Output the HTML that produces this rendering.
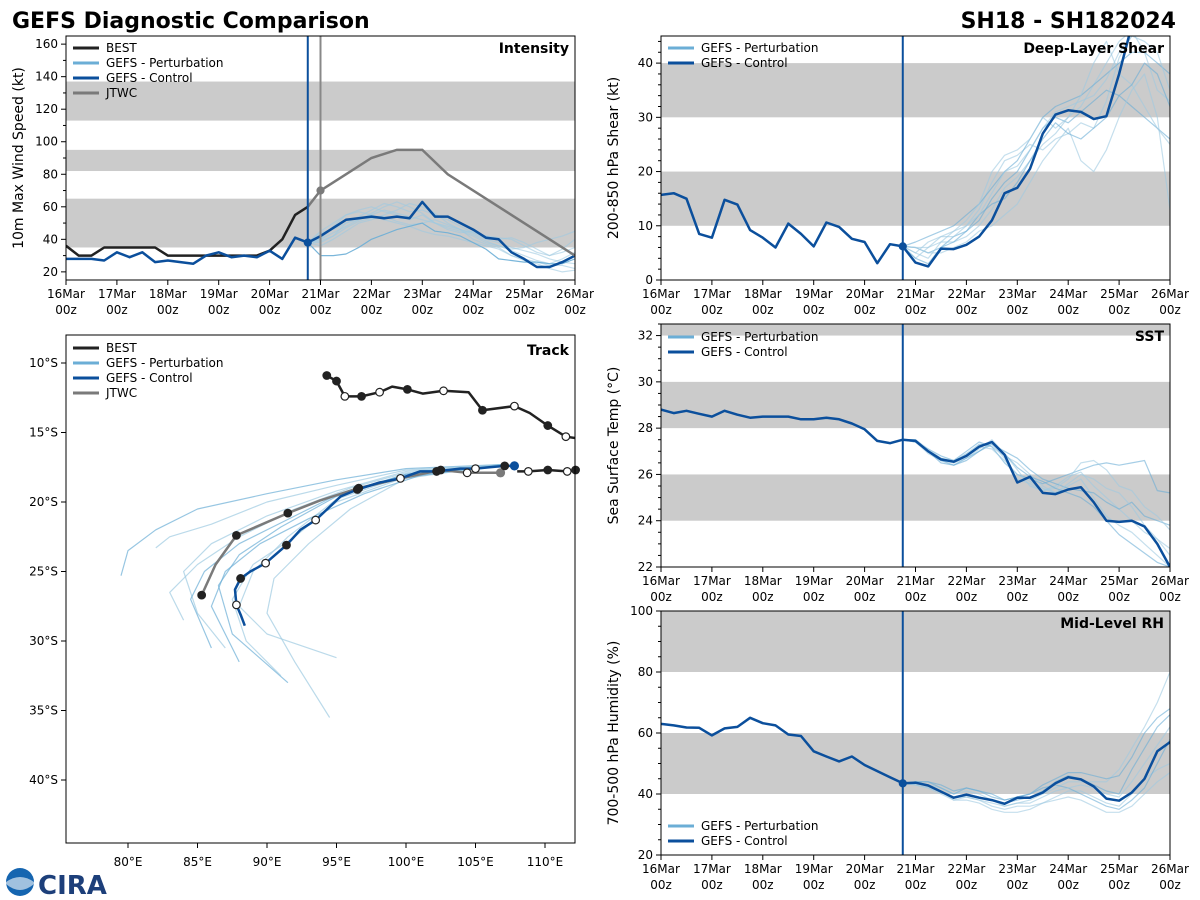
<!DOCTYPE html>
<html><head><meta charset="utf-8"><style>
html,body{margin:0;padding:0;background:#fff;}
svg{display:block;font-family:"DejaVu Sans","Liberation Sans",sans-serif;}
</style></head><body>
<svg id="c" width="1200" height="900" viewBox="0 0 1200 900">
<text x="12" y="28" font-size="22" font-weight="bold">GEFS Diagnostic Comparison</text>
<text x="1176" y="28" font-size="22" font-weight="bold" text-anchor="end">SH18 - SH182024</text>
<g>
<circle cx="20" cy="882" r="14" fill="#1565b0"/>
<path d="M6 882 Q20 872 34 882 L34 884 Q20 896 6 884Z" fill="#fff" opacity="0.6"/>
<text x="38" y="894" font-size="26" font-weight="bold" fill="#1d3f7a">CIRA</text>
</g>
</svg>
<script>
const days=['16Mar','17Mar','18Mar','19Mar','20Mar','21Mar','22Mar','23Mar','24Mar','25Mar','26Mar'];
// Intensity (kt), 6-hourly from 16Mar00z
const intBest=[36,30,30,35,35,35,35,35,30,30,30,30,30,30,30,30,33,40,55,60];
const intCtlHist=[28,28,28,27,32,29,32,26,27,26,25,30,32,29,30,29,33,28,41,38];
const intCtlFcst=[42,47,52,53,54,53,54,53,63,54,54,50,46,41,40,32,28,23,23,26,30];
const intJtwcT=[19,20,22,24,26,28,30,40];
const intJtwcV=[60,70,80,90,95,95,80,30];
const intM1=[45,50,55,58,60,57,55,52,55,50,48,46,44,40,38,35,33,31,28,26,25];
const intM2=[40,44,48,52,55,58,56,54,52,50,47,45,42,38,36,34,35,38,40,42,45];
const intM3=[38,42,50,54,58,62,60,57,58,55,52,48,44,42,41,40,36,32,30,32,35];
const intM4=[36,40,45,50,52,55,58,62,60,56,50,46,40,37,35,30,28,26,24,24,22];
const intM5=[40,48,55,57,55,52,50,48,45,43,42,40,38,36,34,30,27,25,22,20,21];
const intM6=[44,46,50,52,56,60,63,60,56,50,46,44,45,42,40,41,38,34,30,34,40];
const intM7=[39,42,47,51,53,54,51,49,50,52,49,46,43,39,36,33,30,27,25,28,32];
const intM8=[30,30,31,35,40,43,46,48,50,45,44,42,38,34,28,27,26,26,25,25,28];
// Shear (kt)
const shrCtlHist=[15.7,16,15,8.5,7.8,14.8,13.9,9.2,7.8,6,10.4,8.5,6.2,10.6,9.8,7.6,7,3.1,6.6,6.2];
const shrCtlFcst=[3.2,2.5,5.8,5.7,6.5,8,11,16,17,20.5,27,30.5,31.3,31,29.7,30.2,38,47,52,52,52];
const shrM1=[6,5,6,8,9,11,15,18,20,24,28,30,29,31,33,35,34,32,30,28,26];
const shrM2=[5,4,7,7,8,10,13,17,19,22,25,27,30,32,36,40,44,46,42,35,33];
const shrM3=[4,6,8,8,10,13,18,22,23,25,24,26,27,29,28,33,41,45,50,48,45];
const shrM4=[7,8,9,10,12,14,17,20,22,26,30,32,33,34,36,38,40,42,42,40,38];
const shrM5=[6,5,5,6,7,9,10,12,14,18,22,25,28,22,20,24,30,35,38,30,13];
const shrM6=[5,7,8,9,11,14,20,23,24,26,30,28,30,34,40,44,38,36,32,28,25];
const shrM7=[4,3,6,7,9,12,14,15,18,22,26,29,27,26,28,30,34,36,40,38,32];
const shrM8=[6,6,7,9,10,12,16,20,21,24,28,31,32,33,34,37,42,45,44,42,35];
// SST (C)
const sstCtlHist=[28.8,28.65,28.75,28.62,28.5,28.75,28.58,28.45,28.5,28.5,28.5,28.38,28.38,28.45,28.38,28.2,27.95,27.45,27.35,27.5];
const sstCtlFcst=[27.45,27.0,26.65,26.55,26.8,27.2,27.4,26.85,25.65,25.9,25.2,25.15,25.35,25.45,24.8,24.0,23.95,24.0,23.75,23.0,22.0];
const sstM1=[27.4,27.1,26.8,26.6,27.0,27.4,27.2,26.5,26.0,25.8,25.6,25.8,26.0,26.2,26.4,26.5,26.4,26.5,26.6,25.3,25.2];
const sstM2=[27.5,27.0,26.7,26.5,26.7,27.1,27.5,26.9,26.2,25.5,25.3,25.5,25.9,26.1,25.5,25.0,24.5,24.0,23.5,23.2,22.8];
const sstM3=[27.4,26.9,26.6,26.6,26.9,27.3,27.2,26.8,26.5,26.0,25.5,25.2,25.5,25.8,25.0,24.2,23.8,23.5,23.0,22.5,22.0];
const sstM4=[27.5,27.0,26.5,26.4,26.6,27.0,27.3,27.0,26.7,26.2,25.8,25.6,25.4,25.3,25.2,24.8,24.5,24.8,24.2,24.0,23.8];
const sstM5=[27.4,27.0,26.6,26.5,26.9,27.2,27.1,26.6,26.0,25.7,25.4,25.2,25.6,26.0,25.8,25.4,25.2,24.6,23.8,23.2,22.5];
const sstM6=[27.5,27.1,26.7,26.6,26.8,27.3,27.3,26.7,25.8,25.6,25.3,25.4,25.8,26.5,26.6,26.2,25.5,25.3,24.6,24.2,23.6];
const sstM7=[27.4,27.0,26.6,26.4,26.7,27.0,27.4,26.9,26.3,25.9,25.7,25.4,25.2,25.0,24.6,24.0,23.4,23.0,22.6,22.2,22.0];
// RH (%)
const rhCtlHist=[63,62.5,61.8,61.7,59.2,61.5,62,65,63.2,62.5,59.5,59,54,52.3,50.7,52.3,49.5,47.5,45.5,43.5];
const rhCtlFcst=[43.7,42.8,40.8,38.8,39.8,38.8,38,36.8,38.8,38.8,40.5,43.5,45.5,44.8,42.5,38.5,37.8,40.5,45,54,57];
const rhM1=[44,43,41,39,40,39,38,37,38,39,41,44,46,45,43,41,40,48,55,62,66];
const rhM2=[44,43,42,40,41,40,38,36,37,38,40,42,44,44,44,44,48,55,62,70,80];
const rhM3=[43,42,40,38,38,37,35,34,34,35,37,39,41,41,39,37,36,40,45,48,50];
const rhM4=[44,44,42,40,42,41,40,38,39,40,42,43,42,40,38,36,35,38,42,50,58];
const rhM5=[43,42,41,39,39,38,37,36,37,37,39,41,42,43,42,40,39,44,50,56,62];
const rhM6=[44,43,41,38,39,38,36,35,36,36,37,38,39,38,36,34,34,36,40,44,47];
const rhM7=[44,44,43,41,42,41,39,38,39,40,43,45,47,47,46,45,46,52,60,65,68];
// Track (lon E, lat)
const bestLon=[94.3,95.0,95.6,96.8,98.1,99.0,100.1,101.2,102.7,104.5,105.5,107.8,108.9,110.2,111.5,112.2];
const bestLat=[-10.9,-11.3,-12.4,-12.4,-12.1,-11.7,-11.9,-12.2,-12.0,-12.1,-13.4,-13.1,-13.6,-14.5,-15.3,-15.4];
const bestMk=['f','f','o','f','o','','f','','o','','f','o','','f','o',''];
const best2Lon=[112.2,111.6,110.2,108.8,108.0];
const best2Lat=[-17.7,-17.8,-17.7,-17.8,-17.8];
const best2Mk=['f','o','f','o',''];
const ctlLon=[107.8,107.1,106.0,105.0,103.9,102.2,101.0,99.6,98.1,96.5,95.3,93.5,92.4,91.4,89.9,88.8,88.1,87.7,87.8,88.1,88.4];
const ctlLat=[-17.4,-17.4,-17.5,-17.6,-17.6,-17.8,-17.8,-18.3,-18.6,-19.1,-19.6,-21.3,-22.0,-23.1,-24.4,-25.0,-25.5,-26.3,-27.4,-28.1,-28.9];
const ctlMk=['b','f','','o','','f','','o','','f','','o','','f','o','','f','','o','',''];
const jtLon=[106.8,104.4,102.5,99.6,96.6,93.8,91.5,87.8,86.3,85.3];
const jtLat=[-17.9,-17.9,-17.7,-18.3,-19.0,-19.9,-20.8,-22.4,-24.5,-26.7];
const jtMk=['g','o','f','','f','','f','f','','f'];
const trkM1Lon=[107,100,95,90,85,82,80,79.5], trkM1Lat=[-17.3,-17.6,-18.4,-19.4,-20.5,-22,-23.5,-25.3];
const trkM2Lon=[107,100,95,90,86,83,82], trkM2Lat=[-17.3,-17.7,-18.8,-20,-21.6,-22.5,-23.3];
const trkM3Lon=[107,100,95,90,86,84,85,87], trkM3Lat=[-17.3,-17.8,-19.2,-21,-23,-25,-28,-30.5];
const trkM4Lon=[107,100,95,91,88,86.5,87.5,91.5], trkM4Lat=[-17.3,-18,-19.6,-21.8,-23.8,-26,-29.5,-33];
const trkM5Lon=[107,100,95,92,89,87.5,88.5,91], trkM5Lat=[-17.3,-18.2,-20,-22.5,-24.5,-27,-30,-32.5];
const trkM6Lon=[107,100,96,93,90.5,90,92,94.5], trkM6Lat=[-17.3,-18.3,-20.5,-23,-25.5,-28,-31.5,-35.5];
const trkM7Lon=[107,100,95,91,88,85.5,84.5,86], trkM7Lat=[-17.3,-18,-19.5,-21.5,-23,-25,-27,-30.5];
const trkM8Lon=[107,100,96,92,88,85,83,84], trkM8Lat=[-17.3,-17.9,-19,-20.5,-22.5,-24.5,-26.5,-28.5];
const trkM9Lon=[107,100,95,91.5,89,88,90,95], trkM9Lat=[-17.3,-18.1,-19.8,-22.5,-25,-27.5,-29.5,-31.2];
const trkM10Lon=[107,101,97,93,89.5,87,86,88], trkM10Lat=[-17.3,-18.1,-19.4,-21.2,-23,-25,-27.5,-31.5];

const NS='http://www.w3.org/2000/svg';
const svg=document.getElementById('c');
function mk(tag,attrs,parent){const e=document.createElementNS(NS,tag);for(const k in attrs)e.setAttribute(k,attrs[k]);(parent||svg).appendChild(e);return e;}
const CTL='#0b4f9c',PERT='#6baed6',LIGHT='#9ecae1',BEST='#222',JT='#7a7a7a',BAND='#cbcbcb';

function panel(name,p){
  const g=mk('g',{});
  
  
  p.g=g;
  const cp=mk('clipPath',{id:'clip-'+name},g);
  mk('rect',{x:p.x0,y:p.y0,width:p.x1-p.x0,height:p.y1-p.y0},cp);
  p.clip='url(#clip-'+name+')';
  p.X=t=>p.x0+t/40*(p.x1-p.x0);
  p.Y=v=>p.y1-(v-p.vmin)/(p.vmax-p.vmin)*(p.y1-p.y0);
  return p;
}
function bands(p,list){
  list.forEach(b=>{
    const y0=p.Y(Math.min(b[1],p.vmax)),y1=p.Y(b[0]);
    const r=mk('rect',{x:p.x0,y:y0,width:p.x1-p.x0,height:y1-y0,fill:BAND},p.g);
    
    
  });
}
function frame(p){
  const r=mk('rect',{x:p.x0,y:p.y0,width:p.x1-p.x0,height:p.y1-p.y0,fill:'none',stroke:'#000','stroke-width':1},p.g);
  
  
}
function timeAxis(p){
  days.forEach((d,i)=>{
    const x=p.X(i*4);
    mk('line',{x1:x,x2:x,y1:p.y1,y2:p.y1+5,stroke:'#000'},p.g);
    const t=mk('text',{x:x,y:p.y1+18,'font-size':12,'text-anchor':'middle'},p.g);
    t.textContent=d;
    
    
    const t2=mk('text',{x:x,y:p.y1+34,'font-size':12,'text-anchor':'middle'},p.g);
    t2.textContent='00z';
    
    
  });
}
function yAxis(p,ticks,minor,fmt,title){
  ticks.forEach(v=>{
    const y=p.Y(v);
    mk('line',{x1:p.x0-5,x2:p.x0,y1:y,y2:y,stroke:'#000'},p.g);
    const t=mk('text',{x:p.x0-8,y:y+4,'font-size':12,'text-anchor':'end'},p.g);
    t.textContent=fmt?fmt(v):v;
    
    
  });
  minor.forEach(v=>{const y=p.Y(v);mk('line',{x1:p.x0-3,x2:p.x0,y1:y,y2:y,stroke:'#000'},p.g);});
  const cy=(p.y0+p.y1)/2,cx=p.x0-43;
  const t=mk('text',{x:cx,y:cy,'font-size':14,'text-anchor':'middle',transform:'rotate(-90 '+cx+' '+cy+')'},p.g);
  t.textContent=title;
  
  
}
function ptitle(p,txt){
  const t=mk('text',{x:p.x1-6,y:p.y0+17,'font-size':14,'font-weight':'bold','text-anchor':'end'},p.g);
  t.textContent=txt;
  
  
}
function legend(p,x,y,items){
  items.forEach((it,i)=>{
    const yy=y+i*15;
    const l=mk('line',{x1:x,x2:x+26,y1:yy,y2:yy,stroke:it[1],'stroke-width':3},p.g);
    
    
    const t=mk('text',{x:x+33,y:yy+4,'font-size':12},p.g);
    t.textContent=it[0];
    
    
  });
}
function series(p,t0,vals,color,w,op,name){
  const pts=vals.map((v,i)=>p.X(t0+i).toFixed(1)+','+p.Y(v).toFixed(1)).join(' ');
  const l=mk('polyline',{points:pts,fill:'none',stroke:color,'stroke-width':w,opacity:op,'clip-path':p.clip,'stroke-linejoin':'round'},p.g);
  
  
  return l;
}
function vline(p,t,color){
  const x=p.X(t);
  const l=mk('line',{x1:x,x2:x,y1:p.y0,y2:p.y1,stroke:color,'stroke-width':2},p.g);
  
  
}
function dot(p,x,y,fill,stroke,r,name){
  const c=mk('circle',{cx:x,cy:y,r:r,fill:fill,stroke:stroke,'stroke-width':1.2},p.g);
  
  
}
function members(p,list,hist,useDark){
  list.forEach((m,i)=>series(p,19,[hist[19]].concat(m),(useDark&&i%3==0)?PERT:LIGHT,1.2,0.6,'perturbation-member'));
}

// ---- Intensity
const pI=panel('intensity',{x0:66,x1:575,y0:36,y1:280,vmin:15,vmax:165});
bands(pI,[[35,65],[82,95],[113,137]]);
members(pI,[intM1,intM2,intM3,intM4,intM5,intM6,intM7],intCtlHist,false);
series(pI,19,[intCtlHist[19]].concat(intM8),PERT,1.2,0.9,'perturbation-member');
series(pI,0,intBest,BEST,2.5,1,'best-intensity');
series(pI,0,intCtlHist,CTL,2.5,1,'control-intensity-history');
series(pI,19,[intCtlHist[19]].concat(intCtlFcst),CTL,2.5,1,'control-intensity-forecast');
(function(){const pts=intJtwcT.map((t,i)=>pI.X(t)+','+pI.Y(intJtwcV[i])).join(' ');
const l=mk('polyline',{points:pts,fill:'none',stroke:JT,'stroke-width':2.5,'clip-path':pI.clip},pI.g);
})();
vline(pI,19,CTL);vline(pI,20,'#888');
dot(pI,pI.X(19),pI.Y(intCtlHist[19]),CTL,CTL,3.5,'control-init-marker');
dot(pI,pI.X(20),pI.Y(intJtwcV[1]),JT,JT,3.5,'jtwc-init-marker');
frame(pI);timeAxis(pI);
yAxis(pI,[20,40,60,80,100,120,140,160],[30,50,70,90,110,130,150],null,'10m Max Wind Speed (kt)');
ptitle(pI,'Intensity');
legend(pI,73,48,[['BEST',BEST],['GEFS - Perturbation',PERT],['GEFS - Control',CTL],['JTWC',JT]]);

// ---- Shear
const pS=panel('shear',{x0:661,x1:1170,y0:36,y1:280,vmin:0,vmax:45});
bands(pS,[[10,20],[30,40]]);
members(pS,[shrM1,shrM2,shrM3,shrM4,shrM5,shrM6,shrM7,shrM8],shrCtlHist,true);
series(pS,0,shrCtlHist,CTL,2.5,1,'control-shear-history');
series(pS,19,[shrCtlHist[19]].concat(shrCtlFcst),CTL,2.5,1,'control-shear-forecast');
vline(pS,19,CTL);
dot(pS,pS.X(19),pS.Y(shrCtlHist[19]),CTL,CTL,3.5,'control-init-marker');
frame(pS);timeAxis(pS);
yAxis(pS,[0,10,20,30,40],[2,4,6,8,12,14,16,18,22,24,26,28,32,34,36,38,42,44],null,'200-850 hPa Shear (kt)');
ptitle(pS,'Deep-Layer Shear');
legend(pS,668,48,[['GEFS - Perturbation',PERT],['GEFS - Control',CTL]]);

// ---- SST
const pT=panel('sst',{x0:661,x1:1170,y0:324,y1:567,vmin:22,vmax:32.5});
bands(pT,[[24,26],[28,30],[32,33]]);
members(pT,[sstM1,sstM2,sstM3,sstM4,sstM5,sstM6,sstM7],sstCtlHist,true);
series(pT,0,sstCtlHist,CTL,2.5,1,'control-sst-history');
series(pT,19,[sstCtlHist[19]].concat(sstCtlFcst),CTL,2.5,1,'control-sst-forecast');
vline(pT,19,CTL);
frame(pT);timeAxis(pT);
yAxis(pT,[22,24,26,28,30,32],[22.5,23,23.5,24.5,25,25.5,26.5,27,27.5,28.5,29,29.5,30.5,31,31.5,32.5],null,'Sea Surface Temp (°C)');
ptitle(pT,'SST');
legend(pT,668,337,[['GEFS - Perturbation',PERT],['GEFS - Control',CTL]]);

// ---- RH
const pR=panel('rh',{x0:661,x1:1170,y0:611,y1:855,vmin:20,vmax:100});
bands(pR,[[40,60],[80,100]]);
members(pR,[rhM1,rhM2,rhM3,rhM4,rhM5,rhM6,rhM7],rhCtlHist,true);
series(pR,0,rhCtlHist,CTL,2.5,1,'control-rh-history');
series(pR,19,[rhCtlHist[19]].concat(rhCtlFcst),CTL,2.5,1,'control-rh-forecast');
vline(pR,19,CTL);
dot(pR,pR.X(19),pR.Y(rhCtlHist[19]),CTL,CTL,3.5,'control-init-marker');
frame(pR);timeAxis(pR);
yAxis(pR,[20,40,60,80,100],[25,30,35,45,50,55,65,70,75,85,90,95],null,'700-500 hPa Humidity (%)');
ptitle(pR,'Mid-Level RH');
legend(pR,668,826,[['GEFS - Perturbation',PERT],['GEFS - Control',CTL]]);

// ---- Track
const pK={x0:66,x1:575,y0:335,y1:843};
(function(){const g=mk('g',{});pK.g=g;
const cp=mk('clipPath',{id:'clip-track'},g);mk('rect',{x:66,y:335,width:509,height:508},cp);pK.clip='url(#clip-track)';})();
const LX=lon=>128+(lon-80)*13.9;
const LY=lat=>363+(-lat-10)*13.9;
function track(lons,lats,color,w,op,name){
  const pts=lons.map((v,i)=>LX(v).toFixed(1)+','+LY(lats[i]).toFixed(1)).join(' ');
  const l=mk('polyline',{points:pts,fill:'none',stroke:color,'stroke-width':w,opacity:op,'clip-path':pK.clip,'stroke-linejoin':'round'},pK.g);
  
  
}
function marks(lons,lats,mkArr){
  mkArr.forEach((m,i)=>{
    if(!m)return;
    const x=LX(lons[i]),y=LY(lats[i]);
    if(m=='f')dot(pK,x,y,'#222','#222',3.8,'track-marker-00z');
    else if(m=='o')dot(pK,x,y,'#fff','#222',3.8,'track-marker-12z');
    else if(m=='b')dot(pK,x,y,CTL,CTL,4,'control-init-marker');
    else if(m=='g')dot(pK,x,y,JT,JT,4,'jtwc-init-marker');
  });
}
const trkMembers=[[trkM1Lon,trkM1Lat],[trkM2Lon,trkM2Lat],[trkM3Lon,trkM3Lat],[trkM4Lon,trkM4Lat],[trkM5Lon,trkM5Lat],[trkM6Lon,trkM6Lat],[trkM7Lon,trkM7Lat],[trkM8Lon,trkM8Lat],[trkM9Lon,trkM9Lat],[trkM10Lon,trkM10Lat]];
trkMembers.forEach((m,i)=>track(m[0],m[1],i%3==0?PERT:LIGHT,1.2,0.7,'perturbation-track'));
track(bestLon,bestLat,BEST,2.5,1,'best-track');
track(best2Lon,best2Lat,BEST,2.5,1,'best-track-recent');
track(jtLon,jtLat,JT,2.5,1,'jtwc-track');
track(ctlLon,ctlLat,CTL,2.5,1,'control-track');
marks(bestLon,bestLat,bestMk);
marks(best2Lon,best2Lat,best2Mk);
marks(jtLon,jtLat,jtMk);
marks(ctlLon,ctlLat,ctlMk);
(function(){const r=mk('rect',{x:66,y:335,width:509,height:508,fill:'none',stroke:'#000'},pK.g);})();
[80,85,90,95,100,105,110].forEach(v=>{
  const x=LX(v);mk('line',{x1:x,x2:x,y1:843,y2:848,stroke:'#000'},pK.g);
  const t=mk('text',{x:x,y:866,'font-size':12,'text-anchor':'middle'},pK.g);t.textContent=v+'°E';
  
  
});
[10,15,20,25,30,35,40].forEach(v=>{
  const y=LY(-v);mk('line',{x1:61,x2:66,y1:y,y2:y,stroke:'#000'},pK.g);
  const t=mk('text',{x:58,y:y+4,'font-size':12,'text-anchor':'end'},pK.g);t.textContent=v+'°S';
  
  
});
(function(){const t=mk('text',{x:569,y:355,'font-size':14,'font-weight':'bold','text-anchor':'end'},pK.g);t.textContent='Track';})();
legend(pK,73,348,[['BEST',BEST],['GEFS - Perturbation',PERT],['GEFS - Control',CTL],['JTWC',JT]]);
</script>
</body></html>
